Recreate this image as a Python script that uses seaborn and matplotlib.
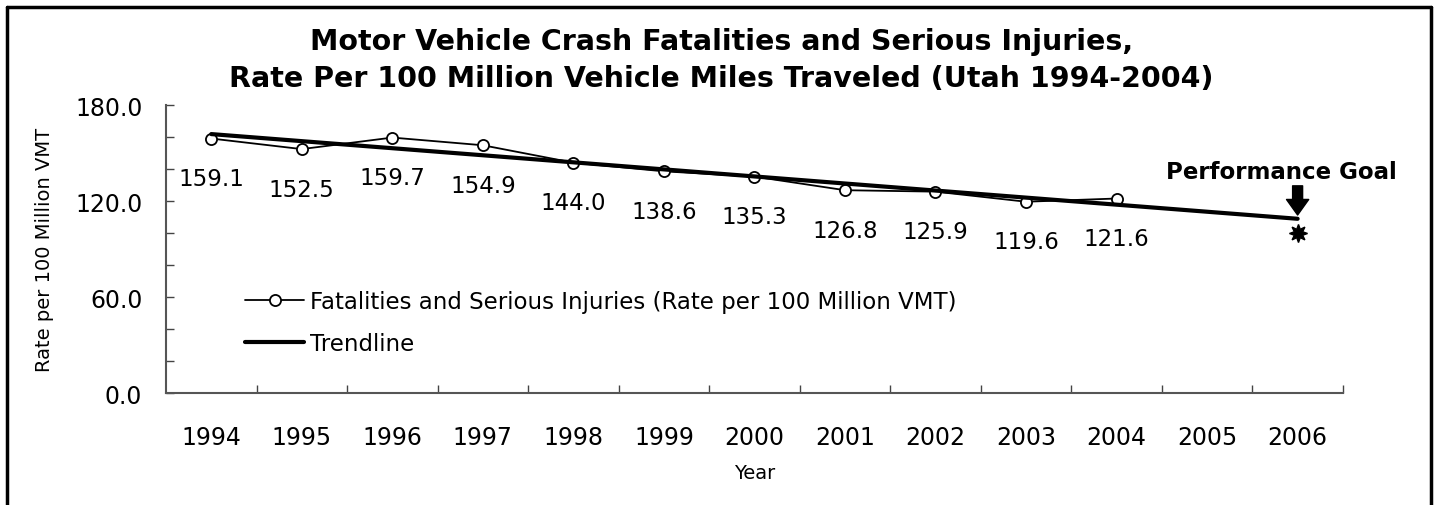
import matplotlib
matplotlib.use("Agg")
import matplotlib.pyplot as plt
import numpy as np
import pandas as pd
import seaborn as sns
from matplotlib.lines import Line2D
from matplotlib.ticker import MultipleLocator, FixedLocator, FormatStrFormatter

# --- data ---
years = ["1994", "1995", "1996", "1997", "1998", "1999", "2000",
         "2001", "2002", "2003", "2004", "2005", "2006"]
rate_years = years[:11]
rates = [159.1, 152.5, 159.7, 154.9, 144.0, 138.6, 135.3,
         126.8, 125.9, 119.6, 121.6]
goal_year = "2006"
goal_value = 100.0

sns.set_style("white")
plt.rcParams["font.family"] = ["DejaVu Sans"]
plt.rcParams.update({"text.color": "black", "axes.labelcolor": "black",
                     "xtick.color": "black", "ytick.color": "black"})

pos = {y: i for i, y in enumerate(years)}
df = pd.DataFrame({"x": [pos[y] for y in rate_years], "rate": rates})

# linear trendline (as in the original spreadsheet), forecast to the goal year
slope, intercept = np.polyfit(df["x"], df["rate"], 1)
trend = pd.DataFrame({"x": np.arange(len(years))})
trend["rate"] = intercept + slope * trend["x"]

fig = plt.figure(figsize=(14.37, 5.06), dpi=100)
ax = fig.add_axes([0.1155, 0.2213, 0.819, 0.569])

sns.lineplot(data=df, x="x", y="rate", ax=ax, color="black", linewidth=1.3,
             marker="o", markersize=8, markerfacecolor="white",
             markeredgecolor="black", markeredgewidth=1.3,
             label="Fatalities and Serious Injuries (Rate per 100 Million VMT)")
sns.lineplot(data=trend, x="x", y="rate", ax=ax, color="black", linewidth=3,
             label="Trendline")

# data labels below the points
for x, v in zip(df["x"], df["rate"]):
    ax.annotate(f"{v:.1f}", (x, v), xytext=(0, -29), textcoords="offset points",
                ha="center", va="center", fontsize=16.5)

# performance goal
gx = pos[goal_year]
ax.plot([gx], [goal_value], marker=(8, 1, 0), markersize=13, color="black",
        linestyle="none")
ax.annotate("", xy=(gx, goal_value), xytext=(0, 34), textcoords="offset points",
            xycoords="data",
            arrowprops=dict(arrowstyle="simple,head_length=0.7,head_width=1.0,tail_width=0.45",
                            color="black", shrinkA=0, shrinkB=13,
                            mutation_scale=16))
ax.annotate("Performance Goal", (gx, goal_value), xytext=(-12, 44),
            textcoords="offset points", ha="center", va="center",
            fontsize=16.5, fontweight="bold")

# axes formatting
ax.set_xlim(-0.5, len(years) - 0.5)
ax.set_ylim(0, 180)
ax.xaxis.set_major_locator(FixedLocator(range(len(years))))
ax.set_xticklabels(years)
ax.xaxis.set_minor_locator(FixedLocator(np.arange(0.5, len(years), 1.0)))
ax.tick_params(axis="x", which="major", length=0, pad=23, labelsize=17)
ax.tick_params(axis="x", which="minor", direction="in", length=6, width=1,
               color="#444444", bottom=True)
ax.yaxis.set_major_locator(MultipleLocator(60))
ax.yaxis.set_minor_locator(MultipleLocator(20))
ax.yaxis.set_major_formatter(FormatStrFormatter("%.1f"))
ax.tick_params(axis="y", which="both", direction="in", length=6, width=1,
               color="#444444", left=True, pad=17, labelsize=17)

ax.set_xlabel("Year", fontsize=14, labelpad=10)
ax.set_ylabel("Rate per 100 Million VMT", fontsize=14, labelpad=15)

for s in ["top", "right"]:
    ax.spines[s].set_visible(False)
for s in ["left", "bottom"]:
    ax.spines[s].set_color("#555555")
    ax.spines[s].set_linewidth(1.5)

leg = ax.legend(loc="upper left", bbox_to_anchor=(0.067, 0.358), frameon=False,
                fontsize=16.5, handlelength=2.6, handletextpad=0.25,
                labelspacing=0.82, borderpad=0, borderaxespad=0)

fig.text(0.502, 0.881, "Motor Vehicle Crash Fatalities and Serious Injuries,\n"
         "Rate Per 100 Million Vehicle Miles Traveled (Utah 1994-2004)",
         ha="center", va="center", fontsize=20.5, fontweight="bold",
         linespacing=1.4)

# frame around the figure (bottom edge is cut off in the original)
W, H = 1437, 506
for xs, ys in [([7 / W, 7 / W], [0, 1 - 8 / H]),
               ([7 / W, 1431 / W], [1 - 8 / H, 1 - 8 / H]),
               ([1431 / W, 1431 / W], [1 - 8 / H, 0])]:
    fig.add_artist(Line2D(xs, ys, transform=fig.transFigure, color="black",
                          linewidth=2.5))

fig.savefig("out.png", dpi=100)
